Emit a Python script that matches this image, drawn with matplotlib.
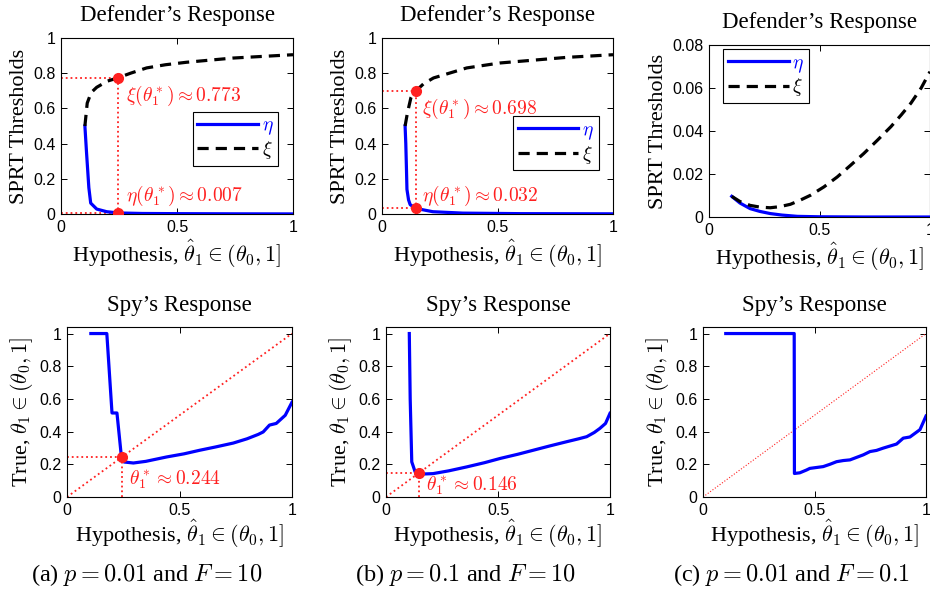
import numpy as np
import matplotlib.pyplot as plt

plt.rcParams['font.family'] = 'Liberation Serif'
plt.rcParams['mathtext.fontset'] = 'cm'

# (a) p = 0.01, F = 10
a_eta_x = [0.103, 0.11, 0.12, 0.128, 0.154, 0.197, 0.247, 0.35, 0.5, 0.75, 1.0]
a_eta_y = [0.50, 0.35, 0.15, 0.062, 0.028, 0.013, 0.006, 0.003, 0.002, 0.001, 0.0005]
a_xi_x = [0.103, 0.113, 0.13, 0.154, 0.2, 0.244, 0.3, 0.369, 0.45, 0.54, 0.74, 1.0]
a_xi_y = [0.50, 0.63, 0.69, 0.72, 0.755, 0.773, 0.80, 0.83, 0.848, 0.862, 0.886, 0.905]
a_spy_x = [0.106, 0.177, 0.2, 0.222, 0.226, 0.24, 0.244, 0.254, 0.295, 0.35, 0.443,
           0.52, 0.59, 0.66, 0.739, 0.8, 0.85, 0.872, 0.9, 0.93, 0.97, 1.0]
a_spy_y = [1.0, 1.0, 0.514, 0.514, 0.46, 0.27, 0.244, 0.214, 0.208, 0.218, 0.245,
           0.264, 0.286, 0.306, 0.33, 0.356, 0.383, 0.398, 0.44, 0.45, 0.5, 0.58]

# (b) p = 0.1, F = 10
b_eta_x = [0.1, 0.103, 0.106, 0.108, 0.115, 0.122, 0.146, 0.22, 0.35, 0.6, 1.0]
b_eta_y = [0.5, 0.4, 0.25, 0.14, 0.08, 0.053, 0.032, 0.013, 0.005, 0.002, 0.001]
b_xi_x = [0.1, 0.11, 0.125, 0.137, 0.146, 0.18, 0.223, 0.367, 0.51, 0.8, 1.0]
b_xi_y = [0.5, 0.574, 0.66, 0.69, 0.698, 0.74, 0.773, 0.83, 0.858, 0.89, 0.905]
b_spy_x = [0.104, 0.108, 0.115, 0.13, 0.152, 0.21, 0.28, 0.36, 0.44, 0.51, 0.59, 0.66,
           0.73, 0.806, 0.86, 0.896, 0.93, 0.955, 0.98, 1.0]
b_spy_y = [1.0, 0.6, 0.215, 0.154, 0.14, 0.143, 0.16, 0.184, 0.21, 0.236, 0.262, 0.287,
           0.312, 0.338, 0.356, 0.369, 0.395, 0.42, 0.45, 0.512]

# (c) p = 0.01, F = 0.1
c_eta_x = [0.103, 0.14, 0.186, 0.23, 0.277, 0.33, 0.4, 0.5, 0.7, 1.0]
c_eta_y = [0.0096, 0.0065, 0.0039, 0.0026, 0.0016, 0.0009, 0.0003, 0.0001, 0.0, 0.0]
c_xi_x = [0.103, 0.14, 0.186, 0.23, 0.277, 0.32, 0.368, 0.41, 0.459, 0.52, 0.58,
          0.64, 0.70, 0.76, 0.823, 0.87, 0.914, 0.96, 1.0]
c_xi_y = [0.0096, 0.0072, 0.0054, 0.0046, 0.0043, 0.0048, 0.0059, 0.0077, 0.0101,
          0.014, 0.0186, 0.024, 0.0295, 0.0355, 0.042, 0.0475, 0.053, 0.060, 0.0676]
c_spy_x = [0.102, 0.409, 0.41, 0.434, 0.464, 0.479, 0.539, 0.569, 0.599, 0.629, 0.659,
           0.719, 0.749, 0.778, 0.808, 0.868, 0.898, 0.928, 0.973, 1.0]
c_spy_y = [1.0, 1.0, 0.144, 0.148, 0.165, 0.175, 0.186, 0.2, 0.216, 0.223, 0.227,
           0.258, 0.278, 0.285, 0.299, 0.324, 0.36, 0.367, 0.412, 0.495]

theta_star = [0.244, 0.146]
xi_star = [0.773, 0.698]
eta_star = [0.007, 0.032]
captions = [r'(a) $p = 0.01$ and $F = 10$',
            r'(b) $p = 0.1$ and $F = 10$',
            r'(c) $p = 0.01$ and $F = 0.1$']

RED = '#ff2020'
TICKFONT = 'Liberation Sans'
XLABEL = r'Hypothesis, $\hat{\theta}_1 \in (\theta_0, 1]$'
YLABEL_SPY = r'True, $\theta_1 \in (\theta_0, 1]$'
LABEL_FS = 16

W, H = 930, 600


def add_axes(fig, left, right, top, bottom):
    return fig.add_axes([left / W, 1 - bottom / H, (right - left) / W, (bottom - top) / H])


def style(ax):
    ax.tick_params(direction='in', top=True, right=True, length=4, width=0.7,
                   labelsize=11.5, pad=4)
    for lab in ax.get_xticklabels() + ax.get_yticklabels():
        lab.set_fontfamily(TICKFONT)
    for s in ax.spines.values():
        s.set_linewidth(0.8)


def fmt(v, pos):
    return ('%g' % v)


def defender(ax, eta_x, eta_y, xi_x, xi_y, ylim, yticks, legend_loc):
    ax.plot(eta_x, eta_y, color='#0000ff', lw=2.3, label=r'$\eta$', zorder=3)
    ax.plot(xi_x, xi_y, color='black', lw=2.3, ls=(0, (3.5, 2.2)), label=r'$\xi$', zorder=3)
    ax.set_xlim(0, 1)
    ax.set_ylim(*ylim)
    ax.set_xticks([0, 0.5, 1])
    ax.set_yticks(yticks)
    ax.xaxis.set_major_formatter(plt.FuncFormatter(fmt))
    ax.yaxis.set_major_formatter(plt.FuncFormatter(fmt))
    ax.set_title("Defender\u2019s Response", fontsize=16.5, pad=12)
    ax.set_xlabel(XLABEL, fontsize=LABEL_FS, labelpad=2)
    ax.set_ylabel('SPRT Thresholds', fontsize=LABEL_FS, labelpad=3)
    leg = ax.legend(fontsize=14, handlelength=3.1, fancybox=False, edgecolor='black',
                    framealpha=1, labelcolor=['#0000ff', 'black'], borderpad=0.25,
                    labelspacing=0.1, handletextpad=0.2, borderaxespad=0, **legend_loc)
    leg.get_frame().set_linewidth(0.8)
    style(ax)


def spy(ax, xs, ys, diag_lw=1.3):
    ax.plot([0, 1], [0, 1], color=RED, lw=diag_lw, ls=':', zorder=2)
    ax.plot(xs, ys, color='#0000ff', lw=2.3, zorder=3)
    ax.set_xlim(0, 1)
    ax.set_ylim(0, 1.04)
    ax.set_xticks([0, 0.5, 1])
    ax.set_yticks([0, 0.2, 0.4, 0.6, 0.8, 1])
    ax.xaxis.set_major_formatter(plt.FuncFormatter(fmt))
    ax.yaxis.set_major_formatter(plt.FuncFormatter(fmt))
    ax.set_title("Spy\u2019s Response", fontsize=16.5, pad=11.5)
    ax.set_xlabel(XLABEL, fontsize=LABEL_FS, labelpad=0)
    ax.set_ylabel(YLABEL_SPY, fontsize=LABEL_FS, labelpad=3)
    style(ax)


def mark_defender(ax, t, xi_v, eta_v, tx):
    ax.plot([0, t], [xi_v, xi_v], color=RED, lw=1.3, ls=':', zorder=2)
    ax.plot([0, t], [eta_v, eta_v], color=RED, lw=1.3, ls=':', zorder=2)
    ax.plot([t, t], [0, xi_v], color=RED, lw=1.3, ls=':', zorder=2)
    ax.plot([t, t], [xi_v, eta_v], 'o', color=RED, ms=7, zorder=4)
    ax.text(tx, xi_v - 0.1, r'$\xi(\theta_1^*) \approx %.3f$' % xi_v, color=RED,
            fontsize=14, va='center', ha='left')
    ax.text(tx, 0.1, r'$\eta(\theta_1^*) \approx %.3f$' % eta_v, color=RED,
            fontsize=14, va='center', ha='left')


def mark_spy(ax, t, tx, ty):
    ax.plot([0, t], [t, t], color=RED, lw=1.3, ls=':', zorder=2)
    ax.plot([t, t], [0, t], color=RED, lw=1.3, ls=':', zorder=2)
    ax.plot([t], [t], 'o', color=RED, ms=7, zorder=4)
    ax.text(tx, ty, r'$\theta_1^* \approx %.3f$' % t, color=RED, fontsize=14,
            va='center', ha='left')


fig = plt.figure(figsize=(9.3, 6), dpi=100)

ax1 = add_axes(fig, 61, 293, 38, 214)
defender(ax1, a_eta_x, a_eta_y, a_xi_x, a_xi_y, (0, 1), [0, 0.2, 0.4, 0.6, 0.8, 1],
         dict(loc='upper left', bbox_to_anchor=(0.567, 0.58)))
mark_defender(ax1, theta_star[0], xi_star[0], eta_star[0], 0.28)

ax2 = add_axes(fig, 382, 613, 38, 214)
defender(ax2, b_eta_x, b_eta_y, b_xi_x, b_xi_y, (0, 1), [0, 0.2, 0.4, 0.6, 0.8, 1],
         dict(loc='upper left', bbox_to_anchor=(0.567, 0.555)))
mark_defender(ax2, theta_star[1], xi_star[1], eta_star[1], 0.175)

ax3 = add_axes(fig, 709, 930, 45, 217)
defender(ax3, c_eta_x, c_eta_y, c_xi_x, c_xi_y, (0, 0.08), [0, 0.02, 0.04, 0.06, 0.08],
         dict(loc='upper left', bbox_to_anchor=(0.065, 0.975)))

ax4 = add_axes(fig, 67, 292, 327, 497)
spy(ax4, a_spy_x, a_spy_y)
mark_spy(ax4, theta_star[0], 0.275, 0.105)

ax5 = add_axes(fig, 386, 610, 327, 497)
spy(ax5, b_spy_x, b_spy_y)
mark_spy(ax5, theta_star[1], 0.18, 0.072)

ax6 = add_axes(fig, 703, 926, 327, 497)
spy(ax6, c_spy_x, c_spy_y, diag_lw=0.8)

for cx, cap in zip([147, 465, 792], captions):
    fig.text(cx / W, 1 - 575 / H, cap, fontsize=17.5, ha='center', va='center')

fig.savefig('out.png', dpi=100)
